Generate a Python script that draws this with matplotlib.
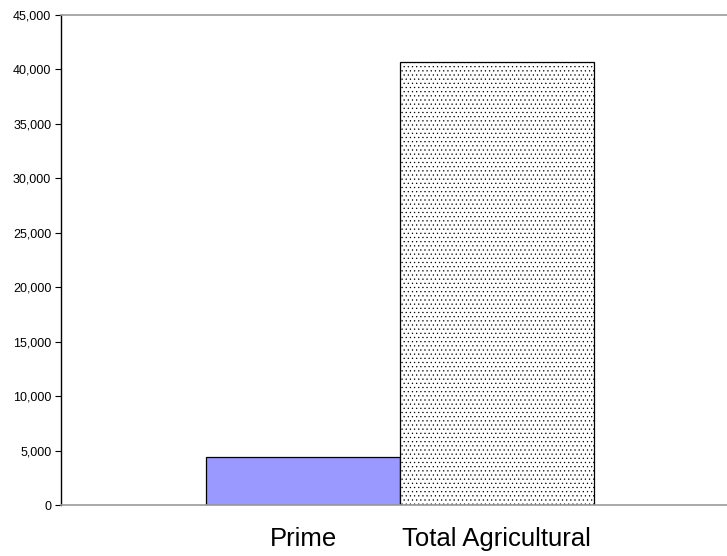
import matplotlib.pyplot as plt
from matplotlib.ticker import FuncFormatter

categories = ["Prime", "Total Agricultural"]
acres = [4400, 40700]
y_ticks = list(range(0, 45001, 5000))

plt.rcParams['font.family'] = ['Liberation Sans', 'DejaVu Sans']
plt.rcParams['hatch.linewidth'] = 0.4
plt.rcParams['hatch.color'] = '#555555'

fig = plt.figure(figsize=(7.27, 5.56), dpi=100)
ax = fig.add_axes((61 / 727, 51 / 556, 678 / 727, 490 / 556))

pos = [0, 1]
ax.bar(pos[0], acres[0], width=1.0, color='#9999ff', edgecolor='black', linewidth=0.9)
ax.bar(pos[1], acres[1], width=1.0, color='white', edgecolor='black', linewidth=0.9,
       hatch='....')

ax.set_xlim(-1.25, 2.25)
ax.set_ylim(0, 45000)
ax.set_yticks(y_ticks)
ax.yaxis.set_major_formatter(FuncFormatter(lambda v, _: f"{int(v):,}"))
ax.tick_params(axis='y', length=4, width=0.8, pad=3, labelsize=9)
ax.set_xticks(pos)
ax.set_xticklabels(categories, fontsize=18.5)
ax.tick_params(axis='x', length=0, pad=16)

for side in ['top', 'bottom']:
    ax.spines[side].set_color('#999999')
    ax.spines[side].set_linewidth(1.2)
ax.spines['left'].set_linewidth(1.0)
ax.spines['right'].set_visible(False)

fig.savefig('out.png', dpi=100)
